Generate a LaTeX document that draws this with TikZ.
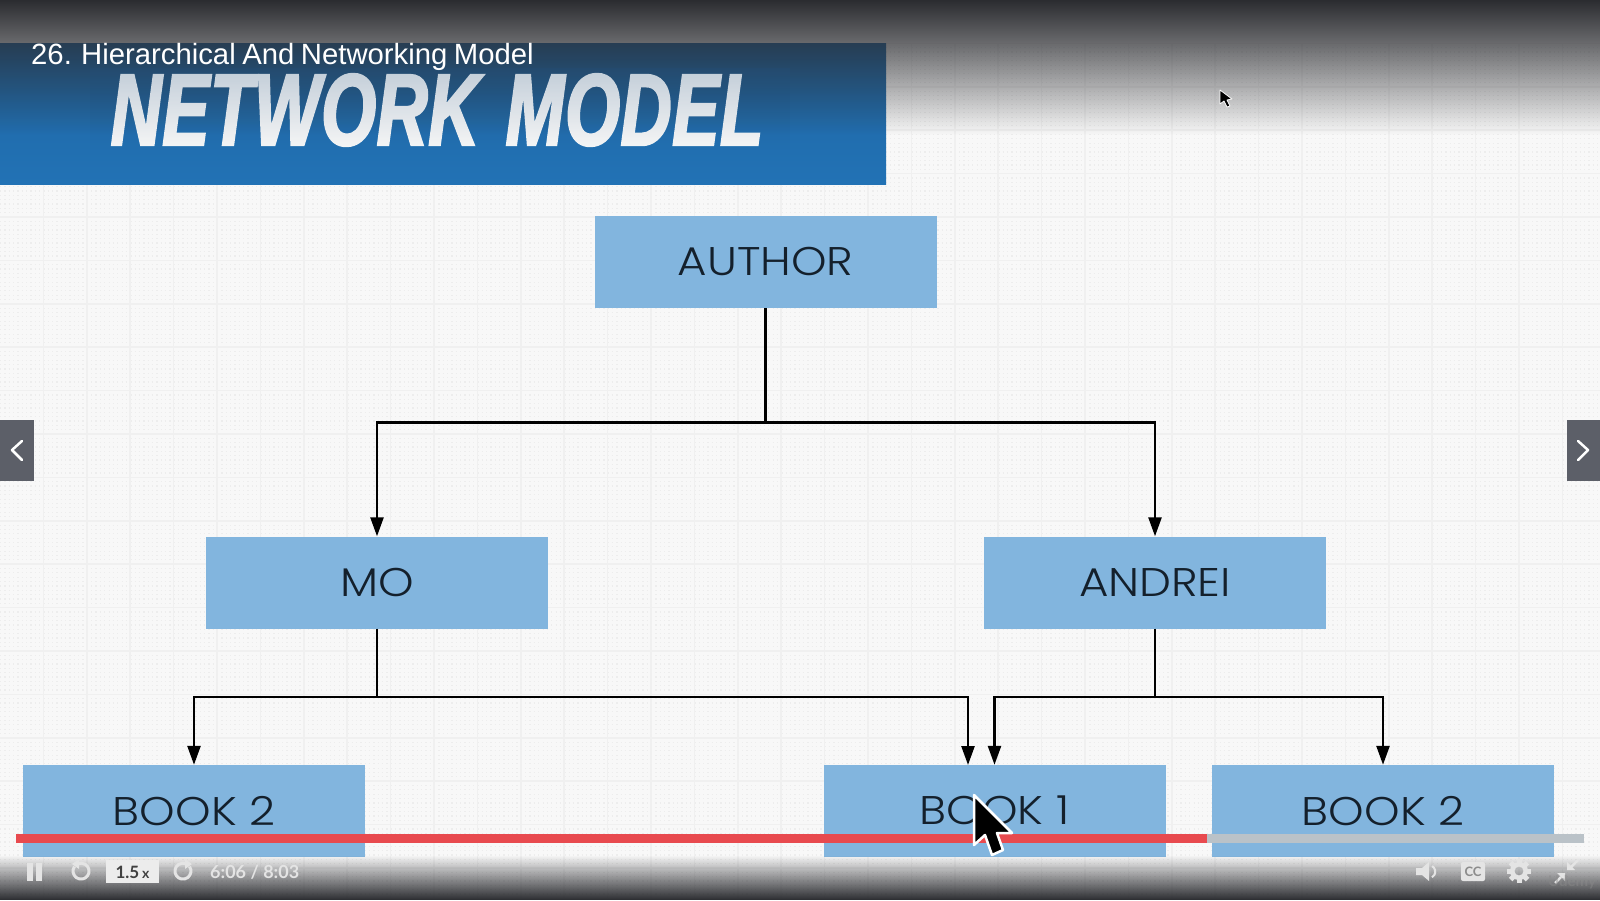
\documentclass[tikz,border=0pt]{standalone}
\usepackage{fontspec}
\usetikzlibrary{arrows.meta,fadings,shadings}
\setmainfont{Liberation Sans}
\newfontfamily\lessonfont[WordSpace=0.8]{Liberation Sans}
\newfontfamily\boxfont[UprightFont=* Light,FakeStretch=1.13]{Poppins}
\newfontfamily\titlefont[UprightFont=* Bold Italic,FakeStretch=0.69,FakeBold=2.2,LetterSpace=0.8,WordSpace=1.3]{Liberation Sans}
\newfontfamily\uifont[UprightFont=* Bold]{Lato}
\definecolor{paper}{HTML}{F8F8F8}
\definecolor{panelA}{HTML}{1F66A3}
\definecolor{panelB}{HTML}{2272B5}
\definecolor{panelTint}{HTML}{22507C}
\definecolor{boxblue}{HTML}{82B5DE}
\definecolor{ink}{HTML}{14202C}
\definecolor{dark}{HTML}{2B2C30}
\definecolor{nav}{HTML}{5C5F68}
\definecolor{redbar}{HTML}{E84A4F}
\definecolor{greybar}{HTML}{BAC2C8}
\definecolor{uilight}{HTML}{E4E4E4}
\definecolor{speedbox}{HTML}{ECECEC}
\definecolor{titleB}{HTML}{F7F7F7}
\tikzfading[name=topfade, top color=transparent!30, bottom color=transparent!100]
\tikzfading[name=botfade, top color=transparent!100, bottom color=transparent!0]
\tikzfading[name=titletint, top color=transparent!75, bottom color=transparent!100]
\tikzset{
  entity/.style={fill=boxblue, minimum width=342pt, minimum height=92pt, inner sep=0pt, text=ink,
     font=\boxfont\fontsize{40}{40}\selectfont},
  link/.style={line width=2.5pt, black},
  arrowlink/.style={link, -{Triangle[length=19pt,width=13pt]}},
  cursorshape/.style={fill=black, draw=white, line join=round},
  icon/.style={fill=uilight},
  iconline/.style={draw=uilight, line width=3pt},
}
\begin{document}
\begin{tikzpicture}[x=1pt,y=-1pt]
\useasboundingbox (0,0) rectangle (1600,900);
% background and grid
\fill[paper] (0,0) rectangle (1600,900);
\foreach \i in {0,...,207}{
  \draw[draw=black!7, line width=1.2pt, dash pattern=on 1.3pt off 3.04pt] (0,{\i*4.34}) -- (1600,{\i*4.34});
}
\foreach \i in {1,...,36}{
  \draw[draw=black!6, line width=1.6pt] ({\i*43.4},0) -- ({\i*43.4},900);
}
\foreach \i in {1,...,20}{
  \draw[draw=black!6, line width=1.6pt] (0,{\i*43.4}) -- (1600,{\i*43.4});
}
% title panel
\shade[top color=panelA, bottom color=panelB] (0,42) rectangle (886,184);
% darkening bands
\fill[dark, path fading=topfade] (-100,42.6) rectangle (1700,135);
\shade[top color=dark, bottom color=dark!70!paper] (0,0) rectangle (1600,42.6);
% title text
\node[text=titleB, inner sep=0pt, font=\titlefont\fontsize{102}{102}\selectfont] (bigtitle) at (437,110) {NETWORK MODEL};
\fill[panelTint, path fading=titletint] (90,68) rectangle (790,150);
\node[anchor=west, text=white, inner sep=0pt, font=\lessonfont\fontsize{29.3}{29.3}\selectfont] (lesson) at (31,56.5) {26. Hierarchical And Networking Model};
% entities
\node[entity] (author) at (765.5,262) {\raisebox{1pt}{AUTHOR}};
\node[entity] (mo) at (377,582.5) {\raisebox{1pt}{MO}};
\node[entity] (andrei) at (1155,582.5) {\raisebox{1pt}{ANDREI}};
\node[entity] (bookL) at (194,811) {\raisebox{1pt}{BOOK 2}};
\node[entity] (bookM) at (994.5,811) {\raisebox{1pt}{BOOK 1}};
\node[entity] (bookR) at (1383,811) {\raisebox{1pt}{BOOK 2}};
% connectors
\coordinate (topbus) at (765.5,422.5);
\coordinate (moBus) at (377,697);
\coordinate (anBus) at (1155,697);
\coordinate (bookMin) at (968,765);
\draw[link] (author.south) -- (topbus);
\draw[arrowlink] (topbus) -| (mo.north);
\draw[arrowlink] (topbus) -| (andrei.north);
\draw[link] (mo.south) -- (moBus);
\draw[arrowlink] (moBus) -| (bookL.north);
\draw[arrowlink] (moBus) -| (bookMin);
\draw[link] (andrei.south) -- (anBus);
\draw[arrowlink] (anBus) -| (bookM.north);
\draw[arrowlink] (anBus) -| (bookR.north);
% side navigation
\fill[nav] (0,420) rectangle (34,481);
\fill[nav] (1567,420) rectangle (1600,481);
\draw[white, line width=2.5pt, line cap=round, line join=round] (22,441) -- (12,450) -- (22,460);
\draw[white, line width=2.5pt, line cap=round, line join=round] (1578,441) -- (1588,450) -- (1578,460);
% bottom band
\fill[dark, path fading=botfade] (-100,855) rectangle (1700,900);
% progress bar
\fill[greybar] (1207,834) rectangle (1584,843);
\fill[redbar] (16,834) rectangle (1207,843);
% big cursor
\path[cursorshape, line width=2.5pt] (974,795) -- (974,845) -- (985,835) -- (992,855) -- (1003,850) -- (997,833) -- (1012,833) -- cycle;
% small cursor
\path[cursorshape, line width=.8pt] (1220,90) -- (1220,104) -- (1224,101) -- (1227,107) -- (1230,106) -- (1227,100) -- (1232,99) -- cycle;
% player controls
\fill[icon] (27,863) rectangle (33,881);
\fill[icon] (36,863) rectangle (42,881);
\draw[iconline] (74.5,866.5) arc[start angle=215, end angle=-120, radius=8];
\fill[icon] (79,859) -- (79,869) -- (72,864) -- cycle;
\draw[iconline] (189.5,866.5) arc[start angle=-35, end angle=300, radius=8];
\fill[icon] (185,859) -- (185,869) -- (192,864) -- cycle;
\fill[speedbox] (106,860) rectangle (159,883);
\node[inner sep=0pt, text=black!75, font=\uifont\fontsize{17}{17}\selectfont] (speed) at (132.5,872) {1.5\,{\fontsize{14}{14}\selectfont x}};
\node[anchor=west, inner sep=0pt, text=uilight, font=\uifont\fontsize{18}{18}\selectfont] (clock) at (210,872) {6:06 / 8:03};
\fill[icon] (1416,868) -- (1422,868) -- (1429,862) -- (1429,881) -- (1422,875) -- (1416,875) -- cycle;
\draw[draw=uilight, line width=2pt] (1432,866) arc[start angle=-60, end angle=60, radius=6.5];
\fill[icon, rounded corners=2pt] (1461,862) rectangle (1485,881);
\node[inner sep=0pt, text=black!45, font=\uifont\fontsize{13}{13}\selectfont] (cc) at (1473,871.5) {CC};
\foreach \a in {0,45,...,315}{
  \fill[icon, shift={(1519,871)}, rotate=\a] (-2.5,-12) rectangle (2.5,-6);
}
\fill[icon, even odd rule] (1519,871) circle[radius=9] (1519,871) circle[radius=4.5];
\draw[draw=uilight, line width=2.5pt] (1578,860) -- (1571,867);
\fill[icon] (1567,862) -- (1567,870) -- (1575,870) -- cycle;
\draw[draw=uilight, line width=2.5pt] (1555,883) -- (1561,877);
\fill[icon] (1565,881) -- (1565,873) -- (1557,873) -- cycle;
\node[anchor=west, inner sep=0pt, text=black!45, opacity=.45, font=\uifont\fontsize{15}{15}\selectfont] (brand) at (1548,882) {Udemy};
\end{tikzpicture}
\end{document}
